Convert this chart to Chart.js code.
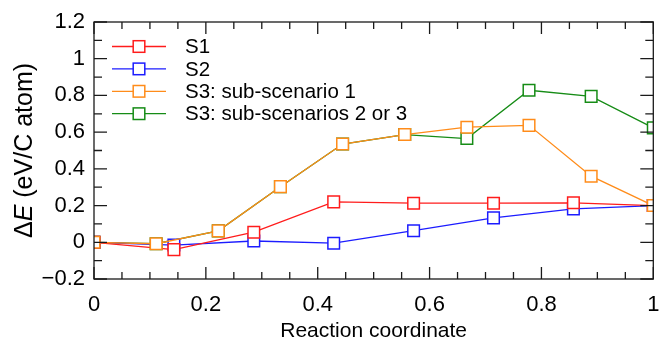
<!DOCTYPE html>
<html>
<head>
<meta charset="utf-8">
<script src="https://cdn.jsdelivr.net/npm/chart.js@4.4.0/dist/chart.umd.min.js"></script>
<style>
  html, body { margin: 0; padding: 0; background: #fff; }
  #wrap { width: 663px; height: 345px; }
</style>
</head>
<body>
<div id="wrap"><canvas id="energyChart"></canvas></div>
<script>
// reaction coordinate of the images along each path
const xS12 = [0, 1/7, 2/7, 3/7, 4/7, 5/7, 6/7, 1];
const xS3 = [0, 1/9, 2/9, 3/9, 4/9, 5/9, 6/9, 7/9, 8/9, 1];

// energy relative to the initial state (eV/C atom)
const s1 = [0, -0.04, 0.055, 0.22, 0.213, 0.213, 0.215, 0.2];
const s2 = [0, -0.015, 0.007, -0.005, 0.063, 0.133, 0.182, 0.2];
const s3sub1 = [0, -0.008, 0.062, 0.303, 0.535, 0.587, 0.627, 0.637, 0.36, 0.2];
const s3sub23 = [0, -0.008, 0.062, 0.303, 0.535, 0.587, 0.565, 0.828, 0.795, 0.623];

const xTicks = [0, 0.2, 0.4, 0.6, 0.8, 1];
const yTicks = [-0.2, 0, 0.2, 0.4, 0.6, 0.8, 1, 1.2];

const FONT = "'Liberation Sans', Arial, sans-serif";

function toPoints(xs, ys) {
  return xs.map((x, i) => ({ x: x, y: ys[i] }));
}

function fmt(v) {
  const s = +v.toFixed(1);
  return s < 0 ? "\u2212" + (-s) : String(s);
}

function series(label, xs, ys, color, order) {
  return {
    label: label,
    data: toPoints(xs, ys),
    borderColor: color,
    backgroundColor: "#fff",
    borderWidth: 1.3,
    pointStyle: "rect",
    pointRadius: 8.2,
    pointBorderWidth: 1.5,
    pointBackgroundColor: "#fff",
    pointBorderColor: color,
    tension: 0,
    order: order,
  };
}

// frame with inward ticks on all four sides + axis titles + legend
const framePlugin = {
  id: "frame",
  afterDatasetsDraw(chart) {
    const ctx = chart.ctx;
    const a = chart.chartArea;
    const xs = chart.scales.x;
    const ys = chart.scales.y;
    ctx.save();
    ctx.strokeStyle = "#1a1a1a";
    ctx.lineWidth = 1.3;
    ctx.strokeRect(a.left, a.top, a.right - a.left, a.bottom - a.top);
    ctx.beginPath();
    for (let i = 0; i <= 20; i++) {
      const px = xs.getPixelForValue(i * 0.05);
      const len = i % 4 === 0 ? 12 : 7;
      ctx.moveTo(px, a.bottom); ctx.lineTo(px, a.bottom - len);
      ctx.moveTo(px, a.top); ctx.lineTo(px, a.top + len);
    }
    for (let i = 0; i <= 14; i++) {
      const py = ys.getPixelForValue(-0.2 + i * 0.1);
      const len = i % 2 === 0 ? 13 : 8;
      ctx.moveTo(a.left, py); ctx.lineTo(a.left + len, py);
      ctx.moveTo(a.right, py); ctx.lineTo(a.right - len, py);
    }
    ctx.stroke();
    ctx.restore();
  },
  afterDraw(chart) {
    const ctx = chart.ctx;
    const a = chart.chartArea;
    ctx.save();
    ctx.fillStyle = "#000";
    ctx.textBaseline = "alphabetic";

    // x title
    ctx.font = "21px " + FONT;
    ctx.textAlign = "center";
    ctx.fillText("Reaction coordinate", (a.left + a.right) / 2, 337);

    // y title with italic E
    ctx.translate(32, (a.top + a.bottom) / 2);
    ctx.rotate(-Math.PI / 2);
    const p1 = "\u0394", p2 = "E", p3 = " (eV/C atom)";
    const up = "25px " + FONT, it = "italic 25px " + FONT;
    ctx.font = up;
    const w1 = ctx.measureText(p1).width;
    const w3 = ctx.measureText(p3).width;
    ctx.font = it;
    const w2 = ctx.measureText(p2).width;
    const x0 = -(w1 + w2 + w3) / 2;
    ctx.textAlign = "left";
    ctx.font = up;
    ctx.fillText(p1, x0, 0);
    ctx.font = it;
    ctx.fillText(p2, x0 + w1, 0);
    ctx.font = up;
    ctx.fillText(p3, x0 + w1 + w2, 0);
    ctx.restore();

    // legend
    ctx.save();
    ctx.font = "20.5px " + FONT;
    ctx.textBaseline = "middle";
    ctx.textAlign = "left";
    chart.data.datasets.forEach((ds, i) => {
      const y = 46.5 + i * 22.4;
      const lx = a.left + 18;
      ctx.strokeStyle = ds.borderColor;
      ctx.lineWidth = 1.3;
      ctx.beginPath();
      ctx.moveTo(lx, y); ctx.lineTo(lx + 54, y);
      ctx.stroke();
      ctx.fillStyle = "#fff";
      ctx.lineWidth = 1.5;
      ctx.fillRect(lx + 27 - 5.8, y - 5.8, 11.6, 11.6);
      ctx.strokeRect(lx + 27 - 5.8, y - 5.8, 11.6, 11.6);
      ctx.fillStyle = "#000";
      ctx.fillText(ds.label, a.left + 91, y + 1);
    });
    ctx.restore();
  },
};

const ctx = document.getElementById("energyChart").getContext("2d");
const energyChart = new Chart(ctx, {
  type: "line",
  data: {
    datasets: [
      series("S1", xS12, s1, "#ff1c1c", 2),
      series("S2", xS12, s2, "#1c1cff", 3),
      series("S3: sub-scenario 1", xS3, s3sub1, "#ff8c1a", 1),
      series("S3: sub-scenarios 2 or 3", xS3, s3sub23, "#168c16", 4),
    ],
  },
  options: {
    responsive: true,
    maintainAspectRatio: false,
    animation: false,
    layout: { padding: { left: 0, right: 4, top: 22, bottom: 0 } },
    plugins: {
      legend: { display: false },
      tooltip: { enabled: false },
    },
    scales: {
      x: {
        type: "linear",
        min: 0,
        max: 1,
        afterBuildTicks: (s) => { s.ticks = xTicks.map((v) => ({ value: v })); },
        afterFit: (s) => {
          s.height = 66;
          s.paddingLeft = 0;
          s.paddingRight = 0;
        },
        grid: { display: false, drawTicks: false },
        border: { display: false },
        ticks: {
          padding: 13,
          color: "#000",
          font: { family: FONT, size: 22 },
          maxRotation: 0,
          callback: (v) => fmt(v),
        },
      },
      y: {
        min: -0.2,
        max: 1.2,
        afterBuildTicks: (s) => { s.ticks = yTicks.map((v) => ({ value: v })); },
        afterFit: (s) => {
          s.width = 94;
          s.paddingTop = 0;
          s.paddingBottom = 0;
        },
        grid: { display: false, drawTicks: false },
        border: { display: false },
        ticks: {
          padding: 9,
          color: "#000",
          font: { family: FONT, size: 22 },
          callback: (v) => fmt(v),
        },
      },
    },
  },
  plugins: [framePlugin],
});
</script>
</body>
</html>
